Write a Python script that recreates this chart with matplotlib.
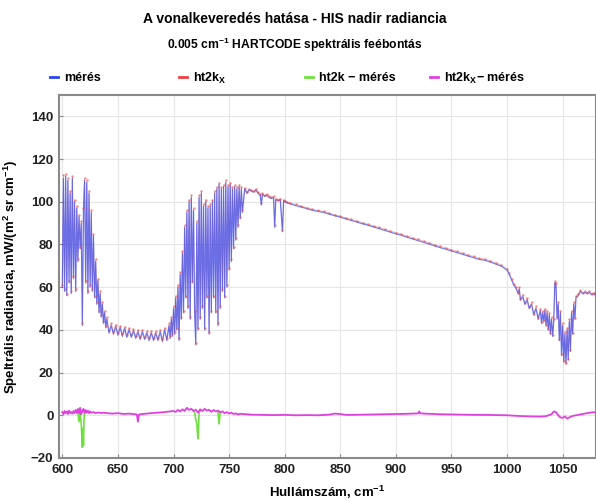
import matplotlib
matplotlib.use("Agg")
import matplotlib.pyplot as plt
from matplotlib.lines import Line2D

plt.rcParams['font.family'] = ['Liberation Sans', 'DejaVu Sans']
plt.rcParams['font.weight'] = 'bold'
plt.rcParams['mathtext.default'] = 'regular'

nan = float('nan')

# ---------------- data ----------------
# measurement (mérés) and ht2k_X model, segment by segment
wn_1 = list(range(600, 641))
meas_1 = [60, 111, 58, 112, 56, 110, 62, 104, 57, 111, 64, 100, 58, 97, 72, 93, 78, 90, 42, 96,
          110, 62, 109, 57, 104, 60, 95, 58, 84, 55, 72, 52, 63, 48, 57, 46, 52, 43, 48, 41, 45]
ht2kx_1 = [61, 112.5, 59, 113, 57, 111, 63, 105, 58, 112, 65, 101, 59, 98, 73, 94, 79, 91, 43, 97,
           111, 63, 110, 58, 105, 61, 96, 59, 85, 56, 73, 53, 64, 49, 58, 47, 53, 44, 49, 42, 46]

wn_2 = list(range(642, 697, 2))
meas_2 = [38.5, 42, 38, 41.5, 37.5, 41, 37, 40.5, 36.5, 40, 36.5, 39.5, 36, 39, 35.5, 39, 35.5,
          38.5, 35, 38.5, 35, 38.5, 35, 39, 34.5, 40, 35, 42]
ht2kx_2 = [39.5, 43, 39, 42.5, 38.5, 42, 38, 41.5, 37.5, 41, 37.5, 40.5, 37, 40, 36.5, 40, 36.5,
           39.5, 36, 39.5, 36, 39.5, 36, 40, 35.5, 41, 36, 43]

wn_3 = list(range(697, 763))
meas_3 = [36, 45, 37, 50, 38, 55, 40, 60, 35, 66, 45, 76, 48, 88, 55, 95, 50, 100, 45, 102,
          62, 96, 48, 33, 90, 40, 102, 45, 104, 50, 98, 40, 100, 55, 97, 38, 98, 48, 100, 55,
          104, 48, 106, 42, 108, 50, 106, 58, 107, 55, 109, 60, 107, 68, 108, 72, 106, 78, 107, 82,
          106, 88, 107, 92, 106, 95]
ht2kx_3 = [37, 46, 38, 51, 39, 56, 41, 61, 36, 67, 46, 77, 49, 89, 56, 96, 51, 101, 46, 103,
           63, 97, 49, 34, 91, 41, 103, 46, 105, 51, 99, 41, 101, 56, 98, 39, 99, 49, 101, 56,
           105, 49, 107, 43, 109, 51, 107, 59, 108, 56, 110, 61, 108, 69, 109, 73, 107, 79, 108, 83,
           107, 89, 108, 93, 107, 96]

wn_4 = [764, 766, 768, 770, 772, 774, 776, 778, 779, 780, 782, 784, 786, 788, 790, 791, 792, 794,
        796, 798, 799, 800, 802, 805, 810, 815, 820, 825, 830, 835, 840, 845, 850, 855, 860, 865,
        870, 875, 880, 885, 890, 895, 900, 905, 910, 915, 920, 925, 930, 935, 940, 945, 950, 955,
        960, 965, 970, 975, 980, 985, 990, 995, 1000]
meas_4 = [106, 104, 105.5, 105, 104.5, 105.5, 104, 103, 98.5, 103.5, 102.5, 103, 102, 101.5, 102,
          88, 101, 100.5, 101, 86, 100.5, 100, 99.5, 99, 98.2, 97.5, 96.8, 96, 95.5, 95, 94.2,
          93.5, 92.8, 92, 91.2, 90.5, 89.7, 89, 88.2, 87.4, 86.6, 85.8, 85, 84.3, 83.4, 82.6,
          81.8, 81, 80.2, 79.3, 78.5, 77.8, 77, 76.2, 75.4, 74.6, 73.8, 73, 72.6, 71.8, 70.8,
          69.8, 68]
ht2kx_4 = [106.5, 104.5, 106, 105.5, 105, 106, 104.5, 103.5, 99.5, 104, 103, 103.5, 102.5, 102,
           102.5, 89, 101.5, 101, 101.5, 87, 101, 100.5, 100, 99.5, 98.8, 98, 97.3, 96.5, 96,
           95.5, 94.7, 94, 93.3, 92.5, 91.8, 91, 90.2, 89.5, 88.7, 88, 87.2, 86.4, 85.6, 84.9,
           84, 83.2, 82.4, 81.6, 80.8, 79.9, 79.1, 78.4, 77.6, 76.8, 76, 75.2, 74.4, 73.6, 73.2,
           72.4, 71.4, 70.4, 68.6]

wn_5 = [1002, 1004, 1006, 1008, 1010, 1011, 1012, 1014, 1016, 1018, 1020, 1022, 1024, 1026, 1028,
        1030, 1031, 1032, 1033, 1034, 1035, 1036, 1037, 1038, 1039, 1040, 1041, 1042, 1043, 1044,
        1045, 1046, 1047, 1048, 1049, 1050, 1051, 1052, 1053, 1054, 1055, 1056, 1057, 1058, 1059,
        1060, 1061, 1062, 1064, 1066, 1068, 1070, 1072, 1074, 1076, 1078, 1080]
meas_5 = [66, 63.5, 61, 59.5, 57, 59, 54, 55.5, 52, 54, 50, 52, 47, 50, 45, 49, 43, 48, 44, 49,
          42, 48, 40, 47, 38, 45, 37, 44, 62, 61, 45, 52, 35, 48, 28, 42, 25, 38, 24, 40,
          26, 44, 30, 48, 38, 52, 45, 55, 56, 58, 57, 57.5, 57, 57.5, 56.5, 57, 56]
ht2kx_5 = [66.5, 64, 61.5, 60, 57.5, 60, 54.5, 56.5, 52.5, 55, 50.5, 53, 47.5, 51, 45.5, 50, 43.5,
           49, 44.5, 50, 42.5, 49, 40.5, 48, 38.5, 46, 37.5, 45, 63, 62, 46, 53, 35.5, 49, 28.5,
           43, 25.5, 39, 24.5, 41, 26.5, 45, 30.5, 49, 38.5, 53, 45.5, 56, 57, 58.5, 57.5, 58,
           57.5, 58, 57, 57.5, 56.5]

# differences ht2k_X - mérés
wn_dA = list(range(600, 627)) + [628, 630, 632, 635, 638, 640]
dx_A = [1.5, 0.5, 2, 1, 1.8, 0.6, 2.2, 1, 1.5, 0.8, 2, 1, 2.5, 1.2, 3, 1, 3.5, 0.5, 2, 3,
        1, 2.5, 1.2, 2.2, 1, 1.8, 1.2, 1.5, 1, 1.3, 1.1, 1.2, 1]
wn_dB = [645, 650, 655, 660, 665, 667, 668, 669, 672, 676, 680, 685, 690, 695, 700]
dx_B = [0.8, 1, 0.6, 0.8, 0.5, 0.4, -3, 0.4, 0.6, 0.8, 1, 1.2, 1.4, 1.7, 2]
wn_dC = list(range(702, 761, 2))
dx_C = [1.6, 2.5, 1.8, 2.8, 2, 3.5, 2.5, 3, 2, 2.6, 1.2, 2.8, 2, 3, 2.2, 2.6, 1.6, 2.5, 1.8, 2.2,
        1.4, 1.8, 1, 1.5, 0.8, 1.2, 0.6, 0.9, 0.4, 0.7]
wn_dD = [770, 780, 790, 800, 810, 820, 830, 840, 845, 850, 855, 860, 870, 880, 890, 900, 910, 920,
         921, 922, 930, 940, 950, 960, 970, 980, 990, 1000, 1010, 1020, 1030, 1035, 1040, 1042,
         1044, 1046, 1048, 1050, 1052, 1054, 1056, 1058, 1060, 1065, 1070, 1075, 1080]
dx_D = [0.3, 0.2, 0.1, 0.2, 0, 0.1, 0, 0.3, 0.8, 0.6, 0.2, 0.2, 0.3, 0.4, 0.5, 0.6, 0.7, 0.9, 1.8,
        0.9, 0.7, 0.5, 0.4, 0.3, 0.2, 0.2, 0.1, 0, -0.3, -0.5, -0.6, -0.4, 0.5, 1.8, 1.5, 0, -1,
        -1.2, -0.5, -1.5, -1, -0.5, -0.2, 0.3, 0.8, 1.3, 1.5]

# differences ht2k - mérés (visible only where they depart from ht2k_X - mérés)
wn_g = [613, 614, 615, 616, 617, 618, 618.5, 619, 619.5, 620, 621, nan,
        718, 719, 720, 721, 721.5, 722, 722.5, 723, 724, nan,
        740, 741, 742]
dg = [1.2, 1.5, -3, 1, -4, -15, -6, -14, -2, 1, 1.5, nan,
      2.2, 1.5, -2, -4, -8, -11, -6, 1.5, 2, nan,
      1.2, -4, 1.2]

labels = ['mérés', 'ht2k$_X$', 'ht2k \u2212 mérés', 'ht2k$_X$\u2212 mérés']
xticks = [600, 650, 700, 750, 800, 850, 900, 950, 1000, 1050]
yticks = [-20, 0, 20, 40, 60, 80, 100, 120, 140]

wn_m = wn_1 + wn_2 + wn_3 + wn_4 + wn_5
meas = meas_1 + meas_2 + meas_3 + meas_4 + meas_5
ht2kx = ht2kx_1 + ht2kx_2 + ht2kx_3 + ht2kx_4 + ht2kx_5
wn_d = wn_dA + wn_dB + wn_dC + wn_dD
dx = dx_A + dx_B + dx_C + dx_D

# ---------------- plot ----------------
C_BLUE = '#2a44f2'
C_RED = '#f04040'
C_GREEN = '#70e040'
C_MAG = '#e040e0'

fig = plt.figure(figsize=(5.96, 5.01), dpi=100)
ax = fig.add_axes([59 / 596, 43 / 501, 537 / 596, 363 / 501])

ax.plot(wn_m, ht2kx, color=C_RED, lw=0.5, alpha=0.45, zorder=2)
ax.plot(wn_m, meas, color=C_BLUE, lw=0.9, alpha=0.68, zorder=3)
ax.plot(wn_m, ht2kx, linestyle='none', marker='o', ms=1.7, mfc=C_RED, mec='none',
        alpha=0.6, zorder=4)
ax.plot(wn_g, dg, color=C_GREEN, lw=1.2, zorder=3)
ax.plot(wn_d, dx, color=C_MAG, lw=1.3, zorder=4)

ax.set_xlim(597, 1080)
ax.set_ylim(-20, 150)
ax.set_xticks(xticks)
ax.set_yticks(yticks)
ax.set_xticklabels([str(t) for t in xticks])
ax.set_yticklabels(['\u221220' if t < 0 else str(t) for t in yticks])
ax.grid(True, color='#e6e6e6', lw=0.8, zorder=0)
ax.set_axisbelow(True)
for s in ax.spines.values():
    s.set_color('#8a8a8a')
    s.set_linewidth(1.5)
ax.tick_params(direction='in', length=3, color='#8a8a8a', labelsize=9.5,
               labelcolor='#222222', pad=4)
for lab in ax.get_xticklabels() + ax.get_yticklabels():
    lab.set_fontweight('bold')

ax.set_xlabel('Hullámszám, cm$^{-1}$', fontsize=9.5, fontweight='bold', labelpad=6)
ax.set_ylabel('Speltrális radiancia, mW/(m$^2$ sr cm$^{-1}$)', fontsize=9.5,
              fontweight='bold', labelpad=8)

# legend: one entry per slot, evenly spaced above the axes
colors = (C_BLUE, C_RED, C_GREEN, C_MAG)
slot_x = (50, 179, 305, 430)
for c, lab, px in zip(colors, labels, slot_x):
    fig.legend([Line2D([], [], color=c, lw=2)], [lab], loc='center left',
               bbox_to_anchor=(px / 596, 1 - 78 / 501), borderpad=0, borderaxespad=0,
               frameon=False, handlelength=0.6, handletextpad=0.55,
               prop={'weight': 'bold', 'size': 9})

fig.text(0.494, 1 - 19 / 501, 'A vonalkeveredés hatása - HIS nadir radiancia',
         ha='center', va='center', fontsize=10, fontweight='bold')
fig.text(0.494, 1 - 45 / 501, '0.005 cm$^{-1}$ HARTCODE spektrális feébontás',
         ha='center', va='center', fontsize=8.7, fontweight='bold')

fig.savefig('out.png', dpi=100)
